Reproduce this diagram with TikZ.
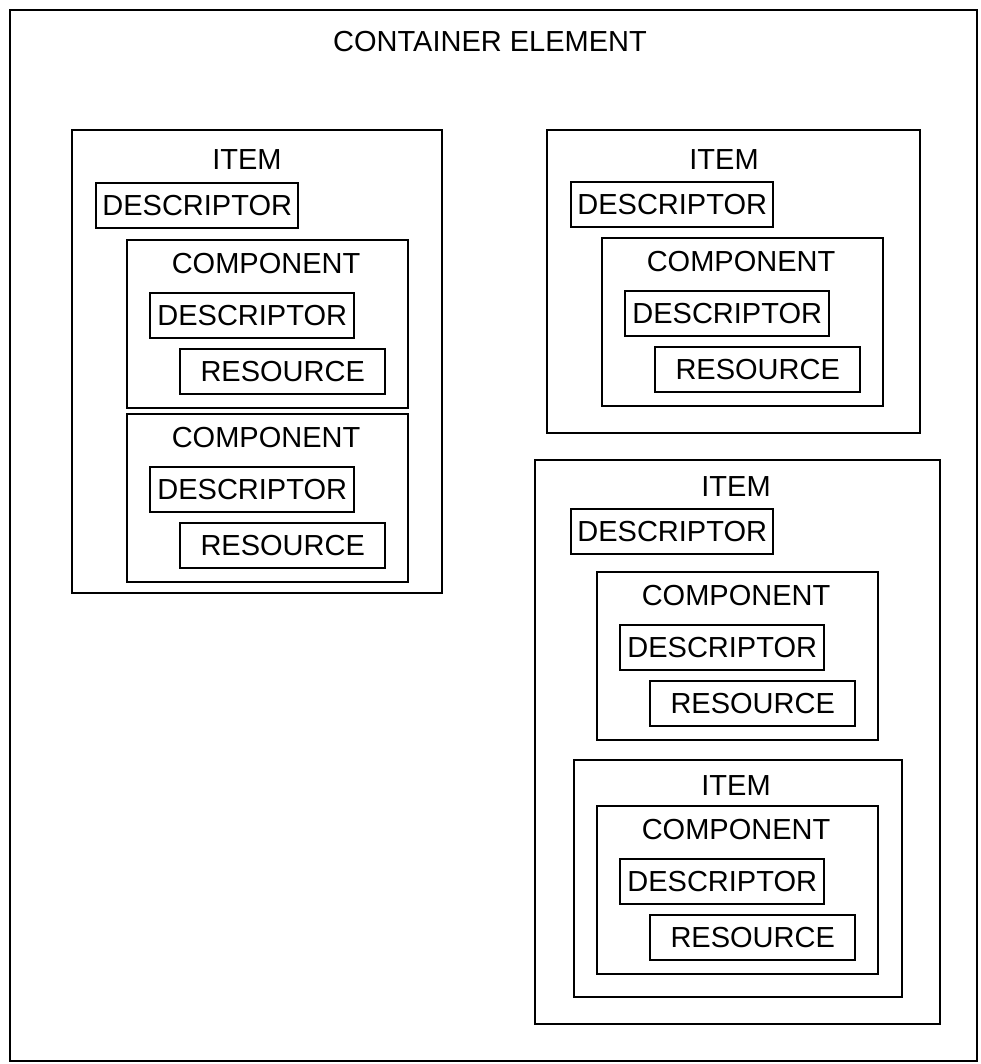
\documentclass[tikz,border=0pt]{standalone}
\usepackage{fontspec}
\setmainfont{Liberation Sans}

\tikzset{
    every node/.style={font=\fontsize{29}{31}\selectfont},
    frame/.style={line width=2.4pt},
    tag/.style={draw, line width=2.4pt, minimum height=45pt, inner sep=0pt, anchor=north west},
    % a component box with its descriptor and resource
    pics/component/.style={code={
        \draw[frame] (0,0) rectangle (281,168);
        \node (-title) at (139,24) {COMPONENT};
        \node[tag, minimum width=204pt] (-desc) at (22,52) {DESCRIPTOR};
        \node[tag, minimum width=205pt] (-res) at (52,108) {RESOURCE};
    }}
}

\begin{document}
\begin{tikzpicture}[x=1pt,y=-1pt]
    \useasboundingbox (0,0) rectangle (980,1064);
    \draw[line width=2.8pt] (10,10) rectangle (977,1061);
    \node (title) at (490,42) {CONTAINER ELEMENT};

    % left item, two components
    \draw[frame] (72,130) rectangle (442,593);
    \node (item1) at (247,160) {ITEM};
    \node[tag, minimum width=202pt] (item1desc) at (95,182) {DESCRIPTOR};
    \pic (comp1) at (127,240) {component};
    \pic (comp2) at (127,414) {component};

    % right upper item
    \draw[frame] (547,130) rectangle (920,433);
    \node (item2) at (724,160) {ITEM};
    \node[tag, minimum width=202pt] (item2desc) at (570,181) {DESCRIPTOR};
    \pic (comp3) at (602,238) {component};

    % right lower item, holds another item
    \draw[frame] (535,460) rectangle (940,1024);
    \node (item3) at (736,487) {ITEM};
    \node[tag, minimum width=202pt] (item3desc) at (570,508) {DESCRIPTOR};
    \pic (comp4) at (597,572) {component};
    \draw[frame] (574,760) rectangle (902,997);
    \node (item4) at (736,786) {ITEM};
    \pic (comp5) at (597,806) {component};
\end{tikzpicture}
\end{document}
